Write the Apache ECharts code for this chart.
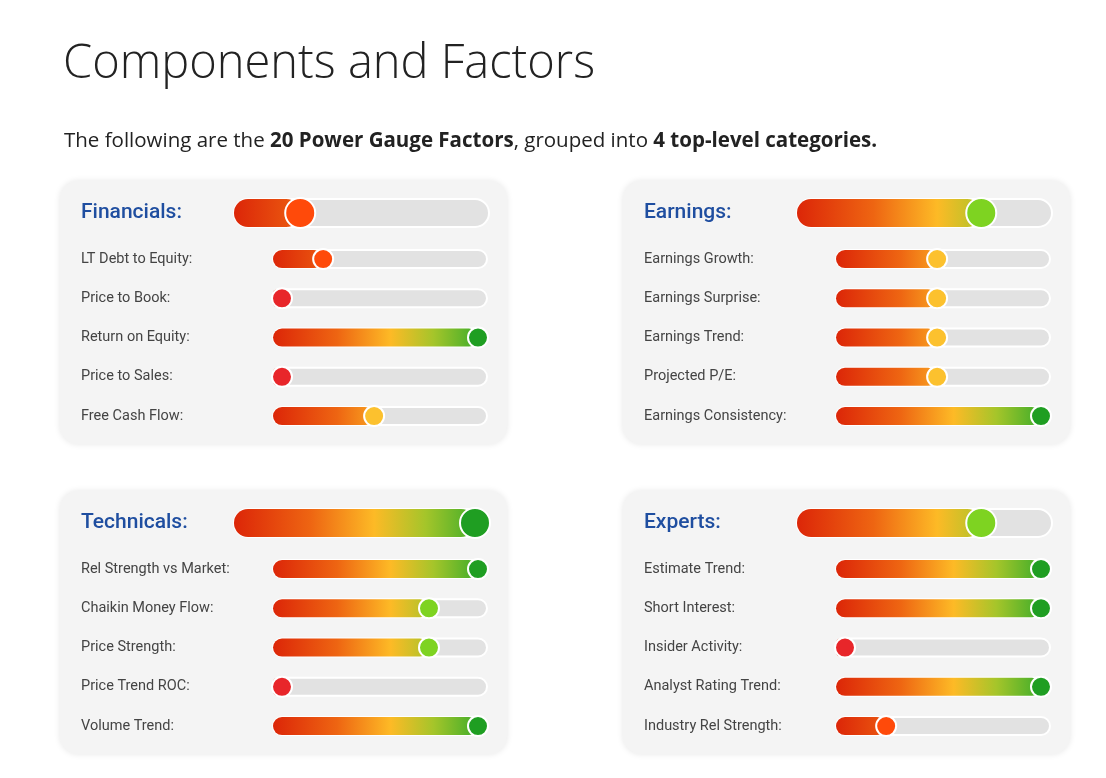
<!DOCTYPE html>
<html><head><meta charset="utf-8">
<script src="https://cdn.jsdelivr.net/npm/echarts@6/dist/echarts.min.js"></script>
<style>html,body{margin:0;padding:0;background:#fff}#c{width:1106px;height:778px}</style>
</head><body><div id="c"></div>
<script>
const groups = ['Financials:', 'Earnings:', 'Technicals:', 'Experts:'];
const groupValues = [23, 75, 100, 75];
const factorNames = [
  ['LT Debt to Equity:', 'Price to Book:', 'Return on Equity:', 'Price to Sales:', 'Free Cash Flow:'],
  ['Earnings Growth:', 'Earnings Surprise:', 'Earnings Trend:', 'Projected P/E:', 'Earnings Consistency:'],
  ['Rel Strength vs Market:', 'Chaikin Money Flow:', 'Price Strength:', 'Price Trend ROC:', 'Volume Trend:'],
  ['Estimate Trend:', 'Short Interest:', 'Insider Activity:', 'Analyst Rating Trend:', 'Industry Rel Strength:']
];
const factorValues = [
  [21, 0, 100, 0, 47],
  [47, 47, 47, 47, 100],
  [100, 75, 75, 0, 100],
  [100, 100, 0, 100, 21]
];

function markerColor(v){
  if (v < 10) return '#e8262a';
  if (v < 35) return '#ff4a0a';
  if (v < 60) return '#fcc12e';
  if (v < 90) return '#7ed321';
  return '#1f9e22';
}
function makeRender(h){
  return function(params, api){
    const v = api.value(0), i = api.value(1);
    const p0 = api.coord([0, i]), p1 = api.coord([100, i]);
    const x0 = p0[0], x1 = p1[0], y = p0[1], r = h/2;
    const cx = x0 + r + v/100*(x1 - x0 - 2*r);
    const grad = new echarts.graphic.LinearGradient(x0, 0, x1, 0, [
      {offset:0, color:'#dc2608'},{offset:0.3, color:'#ee6512'},{offset:0.55, color:'#fdba26'},
      {offset:0.75, color:'#a5c52a'},{offset:1, color:'#2aa82a'}], true);
    const mr = r + 1;
    return {type:'group', children:[
      {type:'rect', shape:{x:x0, y:y-r, width:x1-x0, height:h, r:r}, style:{fill:'#e2e2e2', stroke:'#fff', lineWidth:2}},
      {type:'rect', shape:{x:x0, y:y-r, width:cx-x0, height:h, r:r}, style:{fill:grad}},
      {type:'circle', shape:{cx:cx, cy:y, r:mr}, style:{fill:markerColor(v), stroke:'#fff', lineWidth:2}}
    ]};
  };
}

const panels = [
  {x:60, y:181, mainL:234, mainR:489, subL:273, subR:487, lab:81},
  {x:623, y:181, mainL:797, mainR:1052, subL:836, subR:1050, lab:644},
  {x:60, y:491, mainL:234, mainR:489, subL:273, subR:487, lab:81},
  {x:623, y:491, mainL:797, mainR:1052, subL:836, subR:1050, lab:644}
];
const W = 1106;
const grid = [], xAxis = [], yAxis = [], series = [], graphic = [];
panels.forEach((p, k) => {
  graphic.push({type:'rect', z:-10, shape:{x:p.x, y:p.y, width:447, height:263, r:18},
    style:{fill:'#f4f4f4', shadowBlur:6, shadowColor:'rgba(0,0,0,0.10)'}});
  const mainY = p.y + 32, subTop = p.y + 58.4;
  grid.push({left:p.mainL, width:p.mainR-p.mainL, top:mainY-14, height:28});
  grid.push({left:p.subL, width:p.subR-p.subL, top:subTop, height:196.25});
  [0,1].forEach(j => {
    const gi = k*2 + j;
    xAxis.push({gridIndex:gi, type:'value', min:0, max:100, show:false});
    yAxis.push({gridIndex:gi, type:'category', inverse:true,
      data: j===0 ? [groups[k]] : factorNames[k],
      axisLine:{show:false}, axisTick:{show:false}, splitLine:{show:false},
      axisLabel: j===0
        ? {align:'left', margin:p.mainL-p.lab, fontFamily:'Roboto', fontWeight:500, fontSize:21, color:'#1f4ea0'}
        : {align:'left', margin:p.subL-p.lab, fontFamily:'Roboto', fontSize:14.5, color:'#444'}
    });
    series.push({type:'custom', xAxisIndex:gi, yAxisIndex:gi, clip:false,
      renderItem: makeRender(j===0 ? 28 : 18),
      data: j===0 ? [[groupValues[k], 0]] : factorValues[k].map((v, i) => [v, i])
    });
  });
});

const chart = echarts.init(document.getElementById('c'));
chart.setOption({
  animation:false,
  title:[
    {text:'Components and Factors', left:58, top:36, textStyle:{fontFamily:'Open Sans', fontWeight:300, fontSize:47, color:'#222'}},
    {text:'The following are the {b|20 Power Gauge Factors}, grouped into {b|4 top-level categories.}', left:59, top:126,
      textStyle:{fontFamily:'Open Sans', fontWeight:400, fontSize:20.5, color:'#222',
        rich:{b:{fontFamily:'Open Sans', fontWeight:700, fontSize:20.5, color:'#222'}}}}
  ],
  graphic, grid, xAxis, yAxis, series
});
</script></body></html>
